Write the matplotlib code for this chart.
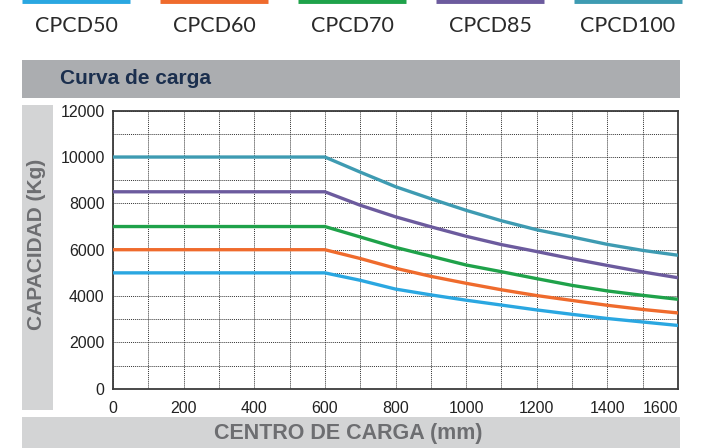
import matplotlib.pyplot as plt
from matplotlib.patches import Rectangle

# Load centre (mm) and rated capacity (kg)
centro = [0, 600, 700, 800, 900, 1000, 1100, 1200, 1300, 1400, 1500, 1600]
cpcd50 = [5000, 5000, 4680, 4300, 4050, 3820, 3610, 3400, 3210, 3030, 2880, 2730]
cpcd60 = [6000, 6000, 5620, 5200, 4850, 4550, 4270, 4020, 3810, 3600, 3420, 3270]
cpcd70 = [7000, 7000, 6550, 6100, 5720, 5340, 5050, 4750, 4460, 4220, 4030, 3860]
cpcd85 = [8500, 8500, 7920, 7420, 6990, 6580, 6220, 5920, 5610, 5320, 5040, 4790]
cpcd100 = [10000, 10000, 9350, 8720, 8200, 7700, 7250, 6860, 6550, 6230, 5970, 5760]

modelos = ["CPCD50", "CPCD60", "CPCD70", "CPCD85", "CPCD100"]
series = [cpcd50, cpcd60, cpcd70, cpcd85, cpcd100]
colores = ["#2aa7e1", "#ef6b2d", "#1fa24a", "#6c5b9e", "#3e9bb2"]

x_ticks = [0, 200, 400, 600, 800, 1000, 1200, 1400, 1600]
y_ticks = [0, 2000, 4000, 6000, 8000, 10000, 12000]

plt.rcParams['font.family'] = ['Liberation Sans', 'DejaVu Sans']

W, H = 723, 448
fig = plt.figure(figsize=(W / 100, H / 100), dpi=100)


def px_box(x0, y0, x1, y1):
    # pixel box (top-left origin) -> figure fraction rect
    return [x0 / W, 1 - y1 / H, (x1 - x0) / W, (y1 - y0) / H]


# background bands
for (x0, y0, x1, y1), c in [((22, 60, 680, 98), "#abadb0"),
                            ((22, 105, 53, 410), "#d3d4d5"),
                            ((22, 417, 680, 448), "#d3d4d5")]:
    r = px_box(x0, y0, x1, y1)
    fig.add_artist(Rectangle((r[0], r[1]), r[2], r[3], transform=fig.transFigure,
                             facecolor=c, edgecolor="none", zorder=0))

fig.text(60 / W, 1 - 79 / H, "Curva de carga", fontsize=15, fontweight="bold",
         color="#1b2f4e", va="center", ha="left")
fig.text(37 / W, 1 - 244 / H, "CAPACIDAD (Kg)", fontsize=15, fontweight="bold",
         color="#6d6e71", rotation=90, va="center", ha="center")
fig.text(348 / W, 1 - 433 / H, "CENTRO DE CARGA (mm)", fontsize=15.5, fontweight="bold",
         color="#6d6e71", va="center", ha="center")

# main chart
ax = fig.add_axes(px_box(113, 110.7, 678, 388.7))
for vals, name, c in zip(series, modelos, colores):
    ax.plot(centro, vals, color=c, lw=2.4, label=name, solid_capstyle="butt", zorder=3)

ax.set_xlim(0, 1600)
ax.set_ylim(0, 12000)
ax.set_xticks(x_ticks)
ax.set_yticks(y_ticks)
ax.set_xticks(range(0, 1601, 100), minor=True)
ax.set_yticks(range(0, 12001, 1000), minor=True)
ax.grid(which="both", color="#333333", linestyle=(0, (1, 1)), linewidth=0.7)
ax.tick_params(which="both", length=0)
ax.tick_params(axis="x", pad=9, labelsize=11.5, labelcolor="#222222")
ax.tick_params(axis="y", pad=6, labelsize=11.5, labelcolor="#222222")
ax.set_xticklabels([str(v) for v in x_ticks])
ax.get_xticklabels()[-1].set_horizontalalignment("right")
for s in ax.spines.values():
    s.set_color("#3a3a3a")
    s.set_linewidth(1.3)

# legend strip at the top: coloured bar above each model name
lax = fig.add_axes([0, 1 - 50 / H, 1, 50 / H])
lax.set_xlim(-76 / 138, (W - 76) / 138)
lax.set_ylim(0, 50)
lax.axis("off")
for i, (name, c) in enumerate(zip(modelos, colores)):
    lax.plot([i - 0.39, i + 0.39], [48.5, 48.5], color=c, lw=3.5, solid_capstyle="butt")
    lax.text(i, 24, name, fontsize=15.5, color="#2a2a2a", ha="center", va="center",
             family=["Lato", "DejaVu Sans"])

fig.savefig("out.png", dpi=100)
